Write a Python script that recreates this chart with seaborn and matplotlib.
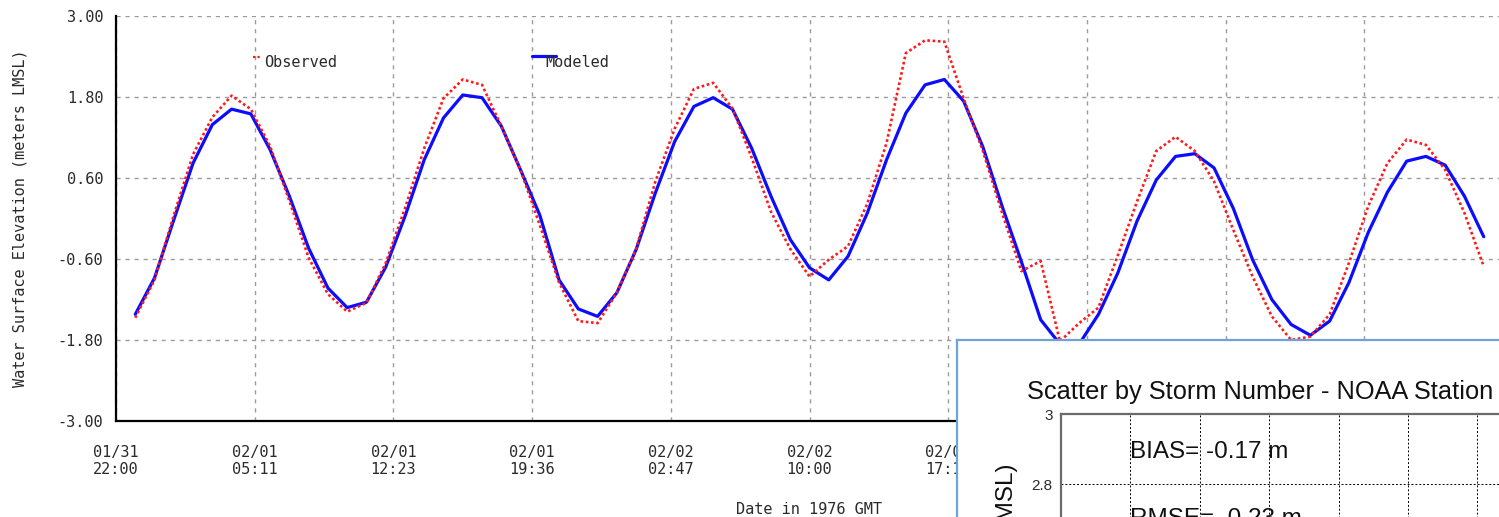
import numpy as np
import pandas as pd
import matplotlib
matplotlib.use("Agg")
import matplotlib.pyplot as plt
from matplotlib.lines import Line2D
import seaborn as sns

# Hourly water levels (m, LMSL), hours after 01/31 22:00 GMT
hours = list(range(1, 72))
observed = [
    -1.47, -0.91, 0.05, 0.95, 1.50, 1.82, 1.62, 1.07, 0.26, -0.58,
    -1.12, -1.38, -1.25, -0.66, 0.15, 1.04, 1.78, 2.06, 1.98, 1.37,
    0.72, -0.10, -0.95, -1.52, -1.55, -1.10, -0.45, 0.55, 1.33, 1.92,
    2.01, 1.63, 0.90, 0.10, -0.45, -0.86, -0.61, -0.41, 0.22, 1.12,
    2.45, 2.64, 2.62, 1.78, 1.00, 0.08, -0.78, -0.63, -1.82, -1.55,
    -1.32, -0.55, 0.25, 1.00, 1.21, 1.00, 0.55, -0.17, -0.86, -1.45,
    -1.80, -1.75, -1.42, -0.66, 0.18, 0.82, 1.17, 1.09, 0.72, 0.08,
    -0.71,
]
modeled = [
    -1.42, -0.88, -0.02, 0.82, 1.39, 1.62, 1.55, 1.02, 0.33, -0.44,
    -1.03, -1.32, -1.24, -0.72, 0.03, 0.87, 1.49, 1.83, 1.79, 1.37,
    0.72, 0.05, -0.91, -1.34, -1.45, -1.10, -0.46, 0.38, 1.14, 1.66,
    1.79, 1.62, 1.04, 0.33, -0.31, -0.73, -0.91, -0.56, 0.08, 0.87,
    1.56, 1.98, 2.06, 1.74, 1.06, 0.18, -0.64, -1.50, -1.86, -1.86,
    -1.42, -0.81, -0.04, 0.57, 0.92, 0.96, 0.75, 0.15, -0.61, -1.20,
    -1.57, -1.73, -1.52, -0.95, -0.21, 0.39, 0.85, 0.92, 0.79, 0.33,
    -0.27,
]

tick_hours = [0, 7.2, 14.4, 21.6, 28.8, 36.0, 43.2, 50.4, 57.6, 64.8, 72.0]
tick_labels = [
    "01/31\n22:00", "02/01\n05:11", "02/01\n12:23", "02/01\n19:36",
    "02/02\n02:47", "02/02\n10:00", "02/02\n17:11", "02/03\n00:23",
    "02/03\n07:36", "02/03\n14:47", "02/03\n22:00",
]
y_ticks = [3.00, 1.80, 0.60, -0.60, -1.80, -3.00]

# Storm-scatter summary statistics
bias_m = -0.17
rmse_m = 0.23
scatter_yticks = [3.0, 2.8, 2.6, 2.4]

RED = "#ff1a1a"
BLUE = "#0c0cff"
TXT = "#2a2a2a"

sns.set_theme(style="white")
plt.rcParams["font.family"] = ["DejaVu Sans Mono"]

W, H = 1499, 517
fig = plt.figure(figsize=(W / 100, H / 100), dpi=100)
fig.patch.set_facecolor("white")

# ---- main time-series axes ----
ax = fig.add_axes([116 / W, 96 / H, 1387 / W, 405 / H])
df = pd.DataFrame({"hour": hours, "Observed": observed, "Modeled": modeled})
sns.lineplot(data=df, x="hour", y="Modeled", ax=ax, color=BLUE, lw=2.3, zorder=3)
sns.lineplot(data=df, x="hour", y="Observed", ax=ax, color=RED, lw=1.9,
             linestyle=(0, (1, 1)), zorder=4)

ax.set_xlim(0, 72)
ax.set_ylim(-3, 3)
ax.set_xticks(tick_hours)
ax.set_xticklabels(tick_labels, ha="center")
ax.set_yticks(y_ticks)
ax.set_yticklabels([f"{v:.2f}" for v in y_ticks])
ax.tick_params(axis="both", length=0, labelsize=11, colors=TXT)
ax.tick_params(axis="x", pad=17)
ax.tick_params(axis="y", pad=9)
ax.grid(True, color="#9c9c9c", lw=1.0, linestyle=(0, (3, 3.5)))
ax.set_axisbelow(True)
for side in ("top", "right"):
    ax.spines[side].set_visible(False)
for side in ("left", "bottom"):
    ax.spines[side].set_color("black")
    ax.spines[side].set_linewidth(1.6)

ax.set_xlabel("Date in 1976 GMT", fontsize=11, color=TXT)
ax.xaxis.set_label_coords(0.5, -0.2)
ax.set_ylabel("Water Surface Elevation (meters LMSL)", fontsize=11, color=TXT)
ax.yaxis.set_label_coords(-0.064, 0.5)

# legend entries placed along the top of the plot
ax.add_line(Line2D([0.0988, 0.1045], [0.899, 0.899], transform=ax.transAxes,
                   color=RED, lw=1.6, linestyle=(0, (1, 1))))
ax.text(0.1067, 0.885, "Observed", transform=ax.transAxes, ha="left",
        va="center", fontsize=11, color=TXT)
ax.add_line(Line2D([0.2999, 0.3172], [0.901, 0.901], transform=ax.transAxes,
                   color=BLUE, lw=2.3))
ax.text(0.3093, 0.885, "Modeled", transform=ax.transAxes, ha="left",
        va="center", fontsize=11, color=TXT)

# ---- overlaid scatter panel ----
panel = fig.add_axes([957 / W, -0.3, 0.6, (517 - 340) / H + 0.3])
panel.set_zorder(5)
panel.set_facecolor("white")
panel.set_xticks([])
panel.set_yticks([])
for s in panel.spines.values():
    s.set_color("#6fa3d8")
    s.set_linewidth(1.6)

inner_top = (517 - 414) / H
inner_h = 210 / H
inner = fig.add_axes([1061 / W, inner_top - inner_h, 694 / W, inner_h])
inner.set_zorder(6)
inner.set_facecolor("white")
inner.set_xlim(0, 10)
inner.set_ylim(2.4, 3.0)
inner.set_xticks(range(1, 10))
inner.set_xticklabels([])
inner.set_yticks(scatter_yticks)
inner.set_yticklabels([f"{v:g}" for v in scatter_yticks],
                      family="Liberation Sans", fontsize=11, color=TXT)
inner.tick_params(length=0, pad=6)
inner.grid(True, color="black", lw=0.7, linestyle=(0, (2, 2)))
for side in ("right", "bottom"):
    inner.spines[side].set_visible(False)
for side in ("top", "left"):
    inner.spines[side].set_color("#6a6a6a")
    inner.spines[side].set_linewidth(1.6)

inner.text(1.0, 2.875, f"BIAS= {bias_m:.2f} m", family="Liberation Sans",
           fontsize=17.5, color="#111111", ha="left", va="baseline")
inner.text(1.0, 2.683, f"RMSE=  {rmse_m:.2f} m", family="Liberation Sans",
           fontsize=17.5, color="#111111", ha="left", va="baseline")

fig.text(1027 / W, (517 - 399) / H, "Scatter by Storm Number - NOAA Station",
         family="Liberation Sans", fontsize=18.3, color="#111111",
         ha="left", va="baseline", zorder=10)
fig.text(1007 / W, (517 - 463) / H, "Water Level (m, MSL)",
         family="Liberation Sans", fontsize=17.5, color="#111111",
         rotation=90, ha="center", va="top", zorder=10)

fig.savefig("out.png", dpi=100)
